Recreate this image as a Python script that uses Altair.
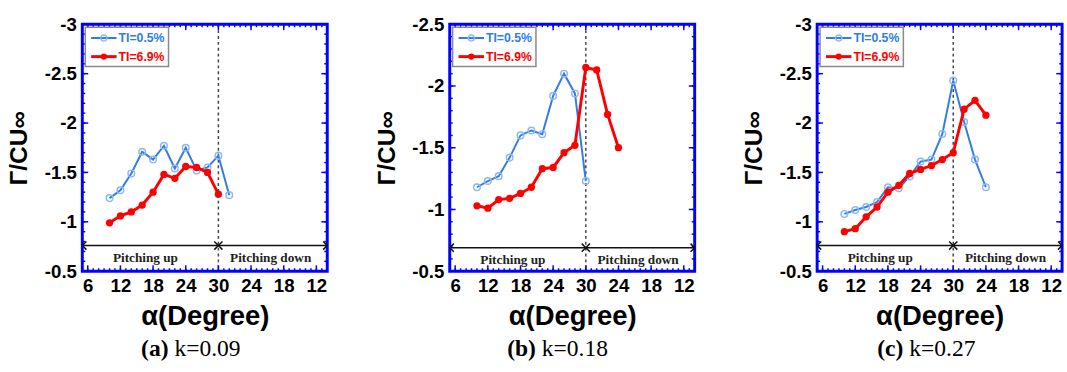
import altair as alt
import pandas as pd

# ---------------- data ----------------
series_names = ["TI=0.5%", "TI=6.9%"]
x_tick_values = [6, 12, 18, 24, 30, 36, 42, 48]   # cycle phase; 36/42/48 read as 24/18/12 (pitching down)

a_blue_phase = [10, 12, 14, 16, 18, 20, 22, 24, 26, 28, 30, 32]
a_blue = [-1.24, -1.32, -1.49, -1.71, -1.63, -1.77, -1.54, -1.75, -1.52, -1.55, -1.67, -1.27]
a_red_phase = [10, 12, 14, 16, 18, 20, 22, 24, 26, 28, 30]
a_red = [-0.99, -1.06, -1.10, -1.17, -1.30, -1.48, -1.44, -1.56, -1.55, -1.50, -1.28]

b_blue_phase = [10, 12, 14, 16, 18, 20, 22, 24, 26, 28, 30]
b_blue = [-1.18, -1.23, -1.27, -1.42, -1.60, -1.64, -1.61, -1.92, -2.10, -1.94, -1.23]
b_red_phase = [10, 12, 14, 16, 18, 20, 22, 24, 26, 28, 30, 32, 34, 36]
b_red = [-1.03, -1.01, -1.08, -1.09, -1.13, -1.18, -1.33, -1.34, -1.46, -1.52, -2.15, -2.13, -1.77, -1.50]

c_blue_phase = [10, 12, 14, 16, 18, 20, 22, 24, 26, 28, 30, 32, 34, 36]
c_blue = [-1.08, -1.12, -1.15, -1.20, -1.35, -1.34, -1.46, -1.61, -1.63, -1.89, -2.43, -2.01, -1.63, -1.35]
c_red_phase = [10, 12, 14, 16, 18, 20, 22, 24, 26, 28, 30, 32, 34, 36]
c_red = [-0.90, -0.93, -1.05, -1.15, -1.30, -1.37, -1.49, -1.53, -1.57, -1.63, -1.70, -2.14, -2.23, -2.08]

y_major_a = [-3, -2.5, -2, -1.5, -1, -0.5]
y_major_b = [-2.5, -2, -1.5, -1, -0.5]

# ---------------- style ----------------
W, H = 250, 252
SANS = "Liberation Sans"
SERIF = "Liberation Serif"
BLUE = "#2f7de6"
BLUE_PT = "#8db8f2"
RED = "#ff0000"
FRAME = "#0000ff"


def one():
    return pd.DataFrame({"k": [0]})


def panel(bp, bv, rp, rv, ydom, ymajor, arrow_y, text_y, tag, kval):
    xs = alt.Scale(domain=[5, 50], nice=False, zero=False)
    ys = alt.Scale(domain=ydom, reverse=True, nice=False, zero=False)

    xaxis = alt.Axis(values=x_tick_values,
                     labelExpr="datum.value <= 30 ? datum.value + '' : (60 - datum.value) + ''",
                     ticks=False, domain=False, grid=False, labelFlush=False, labelOverlap=False,
                     labelFont=SANS, labelFontSize=19, labelFontWeight="bold", labelColor="black",
                     labelPadding=6, title="α(Degree)", titleFont=SANS, titleFontSize=28,
                     titleFontWeight="bold", titleColor="black", titlePadding=7)
    yaxis = alt.Axis(values=ymajor, labelExpr="datum.value + ''",
                     ticks=False, domain=False, grid=False, labelFlush=False, labelOverlap=False,
                     labelFont=SANS, labelFontSize=19, labelFontWeight="bold", labelColor="black",
                     labelPadding=6, title="Γ/CU∞", titleFont=SANS, titleFontSize=25,
                     titleFontWeight="bold", titleColor="black", titlePadding=13)

    X = lambda: alt.X("phase:Q", scale=xs, axis=xaxis)
    Y = lambda: alt.Y("value:Q", scale=ys, axis=yaxis)

    layers = []
    # dashed line at alpha = 30
    layers.append(alt.Chart(pd.DataFrame({"phase": [30]})).mark_rule(
        color="#444444", strokeWidth=1.5, strokeDash=[3, 3]).encode(x=X()))

    # inward ticks
    x_minor = list(range(5, 51))
    y_lo, y_hi = min(ydom), max(ydom)
    n = int(round((y_hi - y_lo) / 0.1))
    y_minor = [round(y_lo + 0.1 * i, 2) for i in range(n + 1)]
    df_xmaj = pd.DataFrame({"phase": x_tick_values})
    df_xmin = pd.DataFrame({"phase": x_minor})
    df_ymaj = pd.DataFrame({"value": ymajor})
    df_ymin = pd.DataFrame({"value": y_minor})
    tk = dict(color=FRAME, strokeWidth=1.5)
    layers += [
        alt.Chart(df_xmaj).mark_rule(**tk).encode(x=X(), y=alt.value(H), y2=alt.value(H - 6)),
        alt.Chart(df_xmin).mark_rule(**tk).encode(x=X(), y=alt.value(H), y2=alt.value(H - 3)),
        alt.Chart(df_xmaj).mark_rule(**tk).encode(x=X(), y=alt.value(0), y2=alt.value(6)),
        alt.Chart(df_xmin).mark_rule(**tk).encode(x=X(), y=alt.value(0), y2=alt.value(3)),
        alt.Chart(df_ymaj).mark_rule(**tk).encode(y=Y(), x=alt.value(0), x2=alt.value(6)),
        alt.Chart(df_ymin).mark_rule(**tk).encode(y=Y(), x=alt.value(0), x2=alt.value(3)),
        alt.Chart(df_ymaj).mark_rule(**tk).encode(y=Y(), x=alt.value(W), x2=alt.value(W - 6)),
        alt.Chart(df_ymin).mark_rule(**tk).encode(y=Y(), x=alt.value(W), x2=alt.value(W - 3)),
    ]

    # pitching arrows
    df_arr = pd.DataFrame({"phase": [5, 30], "phase2": [30, 50], "value": [arrow_y, arrow_y]})
    layers.append(alt.Chart(df_arr).mark_rule(color="#111111", strokeWidth=1.5).encode(
        x=X(), x2="phase2:Q", y=Y()))
    df_hl = pd.DataFrame({"phase": [5, 30], "value": [arrow_y, arrow_y]})
    df_hr = pd.DataFrame({"phase": [30, 50], "value": [arrow_y, arrow_y]})
    layers.append(alt.Chart(df_hl).mark_point(shape="M1,-1L0,0L1,1", filled=False, color="#111111",
                                              strokeWidth=1.5, size=70, opacity=1).encode(x=X(), y=Y()))
    layers.append(alt.Chart(df_hr).mark_point(shape="M-1,-1L0,0L-1,1", filled=False, color="#111111",
                                              strokeWidth=1.5, size=70, opacity=1).encode(x=X(), y=Y()))
    df_pt = pd.DataFrame({"phase": [16.6, 39.6], "value": [text_y, text_y],
                          "label": ["Pitching up", "Pitching down"]})
    layers.append(alt.Chart(df_pt).mark_text(font=SERIF, fontSize=13.5, fontWeight="bold",
                                             color="#222222").encode(x=X(), y=Y(), text="label:N"))

    # data series
    df_b = pd.DataFrame({"phase": bp, "value": bv})
    df_r = pd.DataFrame({"phase": rp, "value": rv})
    layers.append(alt.Chart(df_b).mark_line(color=BLUE, strokeWidth=2).encode(
        x=X(), y=Y(), order="phase:Q"))
    layers.append(alt.Chart(df_b).mark_point(filled=False, color=BLUE_PT, size=45, strokeWidth=1.5,
                                             opacity=1).encode(x=X(), y=Y()))
    layers.append(alt.Chart(df_r).mark_line(color=RED, strokeWidth=3).encode(
        x=X(), y=Y(), order="phase:Q"))
    layers.append(alt.Chart(df_r).mark_circle(color=RED, size=55, opacity=1).encode(x=X(), y=Y()))

    # legend box
    layers.append(alt.Chart(one()).mark_rect(fill="white", stroke="#8a8a8a", strokeWidth=1.5).encode(
        x=alt.value(3), x2=alt.value(88), y=alt.value(3), y2=alt.value(43)))
    for i, (name, lc, pc, filled) in enumerate([(series_names[0], BLUE, BLUE_PT, False),
                                                (series_names[1], RED, RED, True)]):
        yy = 14 + 19 * i
        layers.append(alt.Chart(one()).mark_rule(color=lc, strokeWidth=2 if i == 0 else 3).encode(
            x=alt.value(9), x2=alt.value(35), y=alt.value(yy)))
        layers.append(alt.Chart(one()).mark_point(filled=filled, color=pc, size=40, strokeWidth=1.5,
                                                  opacity=1).encode(x=alt.value(22), y=alt.value(yy)))
        layers.append(alt.Chart(one()).mark_text(text=name, align="left", baseline="middle", font=SANS,
                                                 fontSize=12.5, fontWeight="bold", color=lc).encode(
            x=alt.value(37), y=alt.value(yy)))

    # caption
    layers.append(alt.Chart(one()).mark_text(text=tag, align="right", baseline="middle", font=SERIF,
                                             fontSize=24, fontWeight="bold", color="black").encode(
        x=alt.value(88), y=alt.value(H + 80)))
    layers.append(alt.Chart(one()).mark_text(text=kval, align="left", baseline="middle", font=SERIF,
                                             fontSize=24, color="black").encode(
        x=alt.value(94), y=alt.value(H + 80)))

    return alt.layer(*layers).properties(width=W, height=H)


pa = panel(a_blue_phase, a_blue, a_red_phase, a_red, [-3, -0.5], y_major_a, -0.76, -0.63, "(a)", "k=0.09")
pb = panel(b_blue_phase, b_blue, b_red_phase, b_red, [-2.5, -0.5], y_major_b, -0.69, -0.59, "(b)", "k=0.18")
pc = panel(c_blue_phase, c_blue, c_red_phase, c_red, [-3, -0.5], y_major_a, -0.76, -0.63, "(c)", "k=0.27")

chart = alt.hconcat(pa, pb, pc, spacing=41).properties(
    padding={"left": 5, "top": 10, "right": 0, "bottom": 0},
    background="white",
).configure_view(stroke=FRAME, strokeWidth=3)

chart.save("out.html", embed_options={"renderer": "svg", "actions": False})
